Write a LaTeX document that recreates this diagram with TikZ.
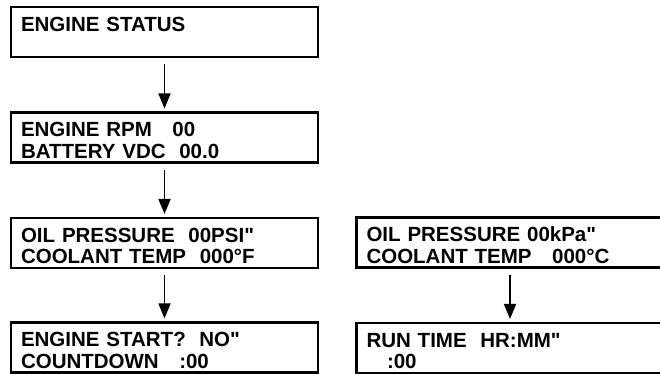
\documentclass[tikz,border=0pt]{standalone}
\usepackage{fontspec}
\newfontfamily\lcdfont{Liberation Sans}
\usetikzlibrary{arrows.meta}
\tikzstyle{screen}=[draw, line width=2.4pt, minimum width=307pt, minimum height=48pt, inner xsep=10pt, inner ysep=4pt, text width=287pt, align=left, font=\lcdfont\fontsize{20.5}{21.5}\selectfont\bfseries, execute at begin node={\rule{0pt}{20pt}}]
\tikzstyle{flow}=[->, line width=1.8pt, shorten <=6pt, shorten >=3pt]

\begin{document}
\begin{tikzpicture}[x=1pt,y=-1pt,>={Triangle[width=12pt,length=15pt]}]
    \useasboundingbox (0,0) rectangle (660,373);

    % Left column
    \draw (164.5,32) node[screen] (status) {ENGINE STATUS\\\phantom{E}};
    \draw (164.5,137.5) node[screen] (rpm) {ENGINE RPM~~~00\\BATTERY VDC~~00.0};
    \draw (164.5,243) node[screen] (oilpsi) {OIL PRESSURE~~00PSI"\\COOLANT TEMP~~000°F};
    \draw (164.5,347.5) node[screen] (start) {ENGINE START?~~NO"\\COUNTDOWN~~~:00};

    % Right column
    \draw (510,242.5) node[screen] (oilkpa) {OIL PRESSURE 00kPa"\\COOLANT TEMP~~~000°C};
    \draw (510,348) node[screen] (runtime) {RUN TIME~~HR:MM"\\~~~:00};

    % Arrows
    \draw[flow] (status) -- (rpm);
    \draw[flow] (rpm) -- (oilpsi);
    \draw[flow] (oilpsi) -- (start);
    \draw[flow] (oilkpa) -- (runtime);

\end{tikzpicture}
\end{document}
